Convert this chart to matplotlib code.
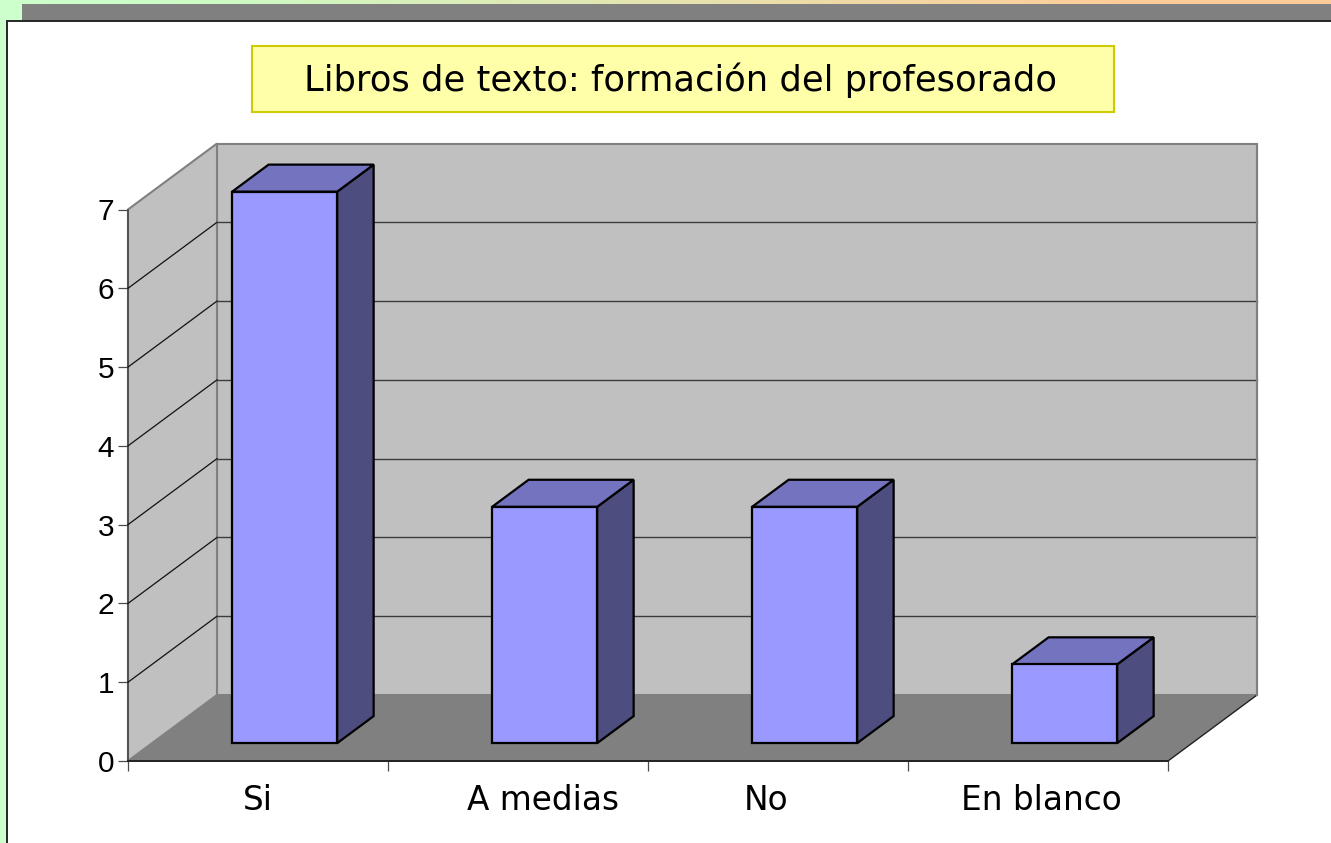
import numpy as np
import matplotlib
matplotlib.use("Agg")
import matplotlib.pyplot as plt
from matplotlib.patches import Polygon, Rectangle
from matplotlib.colors import LinearSegmentedColormap

categories = ["Si", "A medias", "No", "En blanco"]
values = [7, 3, 3, 1]
y_ticks = [0, 1, 2, 3, 4, 5, 6, 7]
label_shift_px = [0, 25, -12, 3]
title = "Libros de texto: formación del profesorado"

W, H = 1331, 843
fig = plt.figure(figsize=(W / 100, H / 100), dpi=100, facecolor="white")

# slide decoration, in pixels from the top left
bg = fig.add_axes([0, 0, 1, 1], zorder=0)
bg.set_xlim(0, W)
bg.set_ylim(H, 0)
bg.axis("off")
cmap = LinearSegmentedColormap.from_list(
    "slide", [(0, "#CCFFCC"), (0.15, "#CCFBC4"), (0.85, "#FFCC99"), (1, "#FFCC99")])
bg.imshow(np.linspace(0, 1, 256).reshape(1, -1), extent=(0, W, 21, 0), cmap=cmap, aspect="auto", zorder=0)
bg.set_xlim(0, W)
bg.set_ylim(H, 0)
bg.add_patch(Rectangle((0, 0), 7, H, fc="#CCFFCC", ec="none", zorder=1))
bg.add_patch(Rectangle((0, 0), 22, 21, fc="#CCFFCC", ec="none", zorder=1))
bg.add_patch(Rectangle((22, 4), W - 22, 17, fc="#808080", ec="none", zorder=2))
bg.add_patch(Rectangle((7, 21), W, H, fc="white", ec="#262626", lw=1.4, zorder=3))
bg.add_patch(Rectangle((251.5, 45.5), 862, 66, fc="#FFFFAA", ec="#CCCC00", lw=1.5, zorder=4))
bg.text(681, 80, title, ha="center", va="center", fontsize=25.4, family="DejaVu Sans", color="black", zorder=5)

# chart, front plane
ax = fig.add_axes([128 / W, (H - 761) / H, 1040 / W, 551.5 / H], zorder=1)
ax.patch.set_alpha(0)
ax.set_xlim(0, len(categories))
ax.set_ylim(0, 7)
depth_x = 89 / 260    # full depth, in category widths
depth_y = 66 / (551.5 / 7)  # full depth, in value units


def proj(x, v, d):
    return (x + d * depth_x, v + d * depth_y)


def poly(points, **kw):
    ax.add_patch(Polygon([proj(*p) for p in points], closed=True, clip_on=False, **kw))


n = len(categories)
top = y_ticks[-1]
poly([(0, 0, 1), (n, 0, 1), (n, top, 1), (0, top, 1)], fc="#C0C0C0", ec="#808080", lw=1.5, zorder=1)
poly([(0, 0, 0), (0, 0, 1), (0, top, 1), (0, top, 0)], fc="#C0C0C0", ec="#808080", lw=1.5, zorder=1)
poly([(0, 0, 0), (n, 0, 0), (n, 0, 1), (0, 0, 1)], fc="#808080", ec="none", zorder=2)

for v in y_ticks[1:-1]:
    ax.plot(*zip(proj(0, v, 0), proj(0, v, 1)), color="#111111", lw=0.9, clip_on=False, zorder=3)
    ax.plot(*zip(proj(0, v, 1), proj(n, v, 1)), color="#3C3C3C", lw=1.0, clip_on=False, zorder=3)
ax.plot(*zip(proj(n, 0, 0), proj(n, 0, 1)), color="#222222", lw=1.0, clip_on=False, zorder=3)
ax.plot(*zip(proj(n, 0, 1), proj(n, top, 1)), color="#808080", lw=1.5, clip_on=False, zorder=3)

bar_w = 0.404
bar_shift = 0.01
d0, d1 = 0.27, 0.68
bar_kw = dict(ec="black", lw=1.6, joinstyle="miter")
for i, v in enumerate(values):
    x0 = i + (1 - bar_w) / 2 + bar_shift
    x1 = x0 + bar_w
    poly([(x1, 0, d0), (x1, 0, d1), (x1, v, d1), (x1, v, d0)], fc="#4D4D80", zorder=5, **bar_kw)
    poly([(x0, v, d0), (x1, v, d0), (x1, v, d1), (x0, v, d1)], fc="#7373BF", zorder=5, **bar_kw)
    poly([(x0, 0, d0), (x1, 0, d0), (x1, v, d0), (x0, v, d0)], fc="#9999FF", zorder=6, **bar_kw)

for s in ("top", "right"):
    ax.spines[s].set_visible(False)
ax.spines["left"].set_color("#4A4A4A")
ax.spines["left"].set_linewidth(1.2)
ax.spines["bottom"].set_color("#222222")
ax.spines["bottom"].set_linewidth(1.4)
ax.set_yticks(y_ticks)
ax.set_yticklabels([str(t) for t in y_ticks], fontsize=21.5, family="Liberation Sans")
ax.tick_params(axis="y", length=7, width=0.9, color="#4A4A4A", pad=3, labelcolor="black")
ax.set_xticks(range(n + 1))
ax.set_xticklabels([])
ax.tick_params(axis="x", length=7, width=0.9, color="#4A4A4A")
for i, lab in enumerate(categories):
    ax.annotate(lab, xy=(i + 0.5, 0), xytext=(label_shift_px[i] * 0.72, -40 * 0.72),
                textcoords="offset points", ha="center", va="center",
                fontsize=23.6, family="DejaVu Sans", color="black", annotation_clip=False)

fig.savefig("out.png", dpi=100)
